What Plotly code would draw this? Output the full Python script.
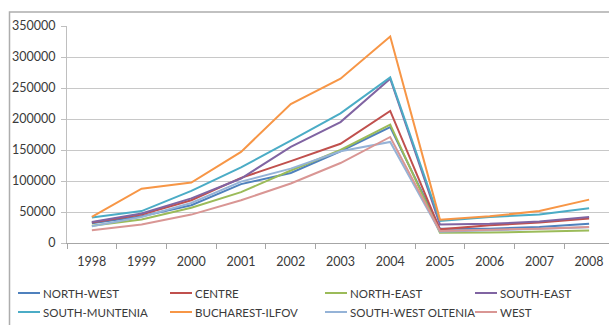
import plotly.graph_objects as go

# Regional values by year, 1998-2008
years = ["1998", "1999", "2000", "2001", "2002", "2003", "2004", "2005", "2006", "2007", "2008"]

north_west = [32000, 43000, 61000, 95000, 113000, 148000, 187000, 23000, 23000, 26000, 31000]
centre = [33000, 46000, 69000, 105000, 132000, 160000, 213000, 22000, 28500, 33000, 39500]
north_east = [28000, 38000, 57000, 82000, 117000, 150000, 191000, 16700, 16800, 17800, 20000]
south_east = [34000, 47500, 72000, 104000, 155000, 195000, 265000, 29700, 31000, 34500, 42000]
south_muntenia = [41000, 51500, 84000, 122000, 165000, 209000, 267000, 35500, 42000, 45800, 56000]
bucharest_ilfov = [42000, 87500, 97500, 147000, 224000, 265000, 333000, 37700, 43000, 51600, 70000]
south_west_oltenia = [27000, 42000, 64500, 99000, 120000, 148000, 163000, 18000, 20500, 23000, 25500]
west = [20500, 29700, 45800, 69000, 96000, 129000, 171000, 19400, 21500, 23000, 26000]

y_ticks = [0, 50000, 100000, 150000, 200000, 250000, 300000, 350000]

series = [
    ("NORTH-WEST", north_west, "#4F81BD"),
    ("CENTRE", centre, "#C0504D"),
    ("NORTH-EAST", north_east, "#9BBB59"),
    ("SOUTH-EAST", south_east, "#8064A2"),
    ("SOUTH-MUNTENIA", south_muntenia, "#4BACC6"),
    ("BUCHAREST-ILFOV", bucharest_ilfov, "#F79646"),
    ("SOUTH-WEST OLTENIA", south_west_oltenia, "#95B3D7"),
    ("WEST", west, "#D99694"),
]

FONT = "Lato"
TEXT = "#3A3A3A"

fig = go.Figure()
for name, vals, color in series:
    fig.add_trace(go.Scatter(
        x=years, y=vals, name=name, mode="lines",
        line=dict(color=color, width=2), showlegend=False,
    ))

# plot area: x 67..609 px, y 26..243 px
L, R, T, B = 67, 0, 26, 82
W, H = 609, 325
pw, ph = W - L - R, H - T - B


def px_x(p):
    return (p - L) / pw


def px_y(p):
    return (H - B - p) / ph


# legend laid out as a 4 x 2 grid under the axis
col_x = [18, 170, 325, 475]
row_y = [293, 312]
seg_len = 22

shapes = [
    dict(type="rect", xref="paper", yref="paper",
         x0=px_x(9.5), x1=px_x(640), y0=px_y(360), y1=px_y(12),
         line=dict(color="#ADADAD", width=1.5), fillcolor="rgba(0,0,0,0)",
         layer="below"),
]
annotations = []
for i, (name, _, color) in enumerate(series):
    cx = col_x[i % 4]
    cy = row_y[i // 4]
    shapes.append(dict(
        type="line", xref="paper", yref="paper",
        x0=px_x(cx), x1=px_x(cx + seg_len), y0=px_y(cy), y1=px_y(cy),
        line=dict(color=color, width=2),
    ))
    annotations.append(dict(
        xref="paper", yref="paper", x=px_x(cx + seg_len + 1), y=px_y(cy),
        xanchor="left", yanchor="middle", showarrow=False, text=name,
        font=dict(family=FONT, size=11.5, color=TEXT),
    ))

fig.update_layout(
    width=W, height=H,
    margin=dict(l=L, r=R, t=T, b=B, pad=0),
    paper_bgcolor="white", plot_bgcolor="white",
    font=dict(family=FONT, size=12, color=TEXT),
    showlegend=False,
    xaxis=dict(
        type="category", range=[-0.5, 10.4],
        tickson="boundaries", ticks="outside", ticklen=5, tickcolor="#A6A6A6",
        showline=True, linecolor="#A6A6A6", linewidth=1,
        showgrid=False, zeroline=False,
        tickfont=dict(family=FONT, size=12.5, color=TEXT),
        ticklabelstandoff=7,
    ),
    yaxis=dict(
        range=[0, 350000], tickvals=y_ticks, ticktext=[str(v) for v in y_ticks],
        ticks="outside", ticklen=5, tickcolor="#BFBFBF",
        showline=True, linecolor="#BFBFBF", linewidth=1,
        showgrid=True, gridcolor="#C8C8C8", gridwidth=1,
        zeroline=False,
        tickfont=dict(family=FONT, size=12.5, color=TEXT),
        ticklabelstandoff=3,
    ),
    shapes=shapes,
    annotations=annotations,
)

fig.write_html("out.html")
